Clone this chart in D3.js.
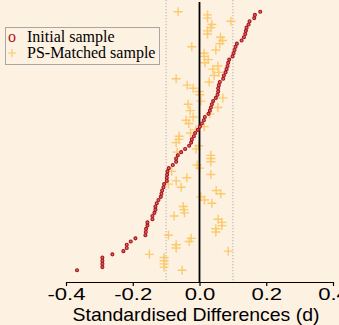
<!DOCTYPE html>
<html>
<head>
<meta charset="utf-8">
<script src="https://cdn.jsdelivr.net/npm/d3@7"></script>
<style>
  html, body { margin: 0; padding: 0; background: #fdf1e2; }
  svg { display: block; }
</style>
</head>
<body>
<div id="chart"></div>
<script>
// Standardised differences per covariate, sorted by the initial-sample value (rank 0 = bottom)
const initialSample = [
  -0.367, -0.291, -0.291, -0.291, -0.291, -0.261, -0.228, -0.218, -0.218, -0.206,
  -0.192, -0.162, -0.161, -0.160, -0.156, -0.156, -0.141, -0.141, -0.135, -0.132,
  -0.132, -0.128, -0.123, -0.116, -0.114, -0.112, -0.108, -0.106, -0.098, -0.098,
  -0.097, -0.096, -0.092, -0.080, -0.070, -0.070, -0.065, -0.055, -0.043, -0.031,
  -0.025, -0.023, -0.017, -0.013, -0.005, 0.001, 0.007, 0.013, 0.016, 0.027,
  0.031, 0.034, 0.037, 0.041, 0.049, 0.054, 0.056, 0.056, 0.058, 0.061,
  0.071, 0.073, 0.078, 0.081, 0.084, 0.086, 0.089, 0.099, 0.102, 0.105,
  0.108, 0.112, 0.126, 0.133, 0.137, 0.139, 0.141, 0.147, 0.150, 0.164,
  0.166, 0.182
];
const matchedSample = [
  -0.052, -0.106, -0.106, -0.106, -0.106, -0.150, 0.086, -0.070, -0.070, -0.031,
  -0.025, -0.093, 0.049, 0.049, 0.067, 0.067, 0.056, -0.076, -0.045, -0.047,
  -0.049, 0.037, 0.015, 0.004, 0.064, 0.050, -0.055, -0.093, -0.070, -0.038,
  0.034, -0.083, 0.000, -0.007, 0.034, 0.034, 0.034, -0.067, -0.010, -0.002,
  -0.070, -0.062, -0.061, -0.027, -0.011, 0.014, -0.032, -0.040, -0.019, 0.031,
  -0.028, 0.055, -0.034, 0.004, 0.070, 0.001, -0.001, -0.019, -0.037, 0.029,
  -0.070, 0.044, 0.058, 0.040, 0.055, 0.016, 0.026, 0.014, 0.014, 0.049,
  -0.023, 0.061, 0.069, 0.063, 0.024, 0.024, 0.034, 0.037, 0.094, 0.024,
  0.024, -0.064
];
const xTicks = [-0.4, -0.2, 0.0, 0.2, 0.4];
const refLines = [-0.1, 0.1];
const legendLabels = ["Initial sample", "PS-Matched sample"];
const xTitle = "Standardised Differences (d)";

const W = 339, H = 325;
const svg = d3.select("#chart").append("svg").attr("width", W).attr("height", H);
svg.append("rect").attr("width", W).attr("height", H).attr("fill", "#fdf1e2");

const x = d3.scaleLinear().domain([-0.4, 0.4]).range([66, 333]);
const y = d3.scaleLinear().domain([0, initialSample.length - 1]).range([270.3, 11.7]);

// reference dotted lines
svg.selectAll(".ref").data(refLines).enter().append("line")
  .attr("x1", d => x(d)).attr("x2", d => x(d))
  .attr("y1", 0).attr("y2", 282)
  .attr("stroke", "#c4c0bb").attr("stroke-width", 1.3)
  .attr("stroke-dasharray", "1.3,1.7");

// matched sample crosses
const ms = svg.append("g").attr("stroke", "#fcc45a").attr("stroke-width", 1.4).attr("opacity", 0.85);
matchedSample.forEach((v, i) => {
  const cx = x(v), cy = y(i);
  ms.append("path").attr("d", `M${cx-4.5},${cy}H${cx+4.5}M${cx},${cy-4.5}V${cy+4.5}`).attr("fill", "none");
});

// zero line
svg.append("line").attr("x1", x(0)).attr("x2", x(0)).attr("y1", 2).attr("y2", 282)
  .attr("stroke", "#000").attr("stroke-width", 1.8);

// initial sample markers
svg.append("g").selectAll("circle").data(initialSample).enter().append("circle")
  .attr("cx", d => x(d)).attr("cy", (d, i) => y(i)).attr("r", 1.5)
  .attr("fill", "#d76a6a").attr("stroke", "#a8141c").attr("stroke-width", 1.1);

// x axis
const axis = d3.axisBottom(x).tickValues(xTicks).tickFormat(d => d.toFixed(1))
  .tickSize(4).tickSizeOuter(0);
const ag = svg.append("g").attr("transform", "translate(0,282)").call(axis);
ag.select(".domain").attr("stroke", "#000").attr("stroke-width", 1.2);
ag.selectAll(".tick line").attr("stroke", "#000").attr("stroke-width", 1.2);
ag.selectAll(".tick text").attr("fill", "#000")
  .attr("font-family", "'Liberation Sans', Arial, sans-serif")
  .attr("font-size", 17).attr("y", 6).attr("dy", "0.71em")
  .attr("transform", "scale(1.3,1)");

svg.append("g").attr("transform", "translate(196,320.5) scale(1.08,1)")
  .append("text").attr("x", 0).attr("y", 0).attr("text-anchor", "middle")
  .attr("font-family", "'Liberation Sans', Arial, sans-serif").attr("font-size", 18)
  .attr("fill", "#000").text(xTitle);

// legend
const lg = svg.append("g");
lg.append("rect").attr("x", 5.5).attr("y", 27.5).attr("width", 154).attr("height", 37)
  .attr("fill", "#fdf1e2").attr("stroke", "#a9a7a4").attr("stroke-width", 1);
lg.append("text").attr("x", 12).attr("y", 42).attr("text-anchor", "middle")
  .attr("font-family", "'Liberation Serif', 'Times New Roman', serif").attr("font-size", 16)
  .attr("fill", "#b0141c").text("o");
lg.append("path").attr("d", "M8,53H16M12,49V57").attr("stroke", "#fcc45a").attr("stroke-width", 1.2).attr("opacity", 0.85);
legendLabels.forEach((t, i) => {
  lg.append("text").attr("x", 27).attr("y", 42 + i * 16)
    .attr("font-family", "'Liberation Serif', 'Times New Roman', serif").attr("font-size", 16)
    .attr("fill", "#000").text(t);
});
</script>
</body>
</html>
